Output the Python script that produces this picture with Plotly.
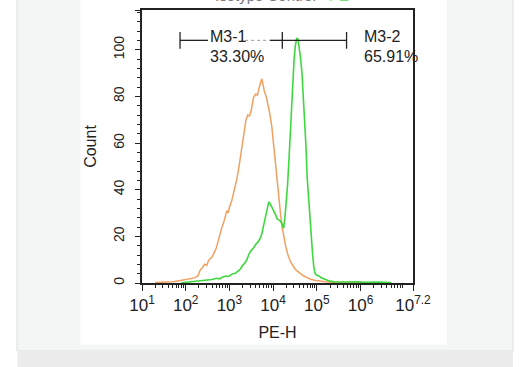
import plotly.graph_objects as go

# ---------------- data ----------------
# log10(PE-H) channel positions and counts
control_log = [1.30, 1.50, 1.70, 1.85, 2.00, 2.10, 2.20, 2.28, 2.33, 2.38, 2.43, 2.48, 2.52,
               2.56, 2.60, 2.65, 2.70, 2.75, 2.79, 2.83, 2.87, 2.91, 2.94, 2.97, 3.00, 3.05,
               3.10, 3.17, 3.22, 3.28, 3.33, 3.38, 3.42, 3.46, 3.50, 3.55, 3.60, 3.64, 3.67,
               3.71, 3.74, 3.77, 3.80, 3.84, 3.88, 3.92, 3.97, 4.01, 4.05, 4.09, 4.13, 4.17,
               4.21, 4.25, 4.29, 4.34, 4.39, 4.45, 4.50, 4.56, 4.62, 4.70, 4.78, 4.86, 4.95,
               5.05, 5.20, 5.35, 5.55, 5.75, 5.95, 6.20]
control_count = [0.2, 0.3, 0.5, 1.0, 1.5, 1.8, 2.2, 3.0, 5.5, 6.5, 8.0, 7.5, 9.5,
                 10.5, 11.0, 13.0, 15.0, 18.5, 21.5, 24.0, 26.0, 29.5, 31.0, 30.0, 32.5, 35.0,
                 39.0, 44.5, 50.0, 57.0, 63.0, 70.0, 72.0, 71.5, 74.0, 79.5, 81.0, 80.5, 83.0,
                 86.0, 87.5, 85.0, 82.0, 80.0, 77.0, 73.0, 67.0, 59.0, 52.0, 44.0, 36.0, 29.5,
                 23.5, 19.0, 15.5, 12.0, 9.5, 7.5, 6.0, 5.0, 4.0, 3.0, 2.3, 1.6, 1.2,
                 0.8, 0.5, 0.3, 0.2, 0.4, 0.2, 0.1]

sample_log = [1.90, 2.05, 2.20, 2.35, 2.50, 2.60, 2.70, 2.78, 2.85, 2.92, 2.98, 3.03, 3.08,
              3.14, 3.20, 3.25, 3.30, 3.35, 3.40, 3.45, 3.50, 3.55, 3.60, 3.65, 3.70, 3.74,
              3.78, 3.82, 3.86, 3.90, 3.93, 3.97, 4.01, 4.05, 4.09, 4.13, 4.17, 4.21, 4.24,
              4.27, 4.30, 4.33, 4.36, 4.39, 4.42, 4.45, 4.48, 4.51, 4.54, 4.57, 4.60, 4.63,
              4.66, 4.69, 4.72, 4.75, 4.78, 4.81, 4.84, 4.87, 4.90, 4.93, 4.96, 5.00, 5.05,
              5.10, 5.15, 5.22, 5.30, 5.40, 5.55, 5.70, 5.90, 6.10, 6.40, 6.70]
sample_count = [0.1, 0.4, 0.6, 0.9, 1.2, 1.5, 2.0, 1.8, 2.6, 3.0, 2.8, 3.5, 4.0,
                4.2, 5.2, 6.0, 7.5, 8.5, 10.0, 12.5, 14.0, 15.0, 16.5, 17.5, 19.0, 21.0,
                24.5, 28.0, 32.0, 34.8, 34.0, 32.5, 31.5, 29.5, 27.5, 27.0, 26.5, 25.0, 23.5,
                28.0, 34.0, 42.0, 52.0, 64.0, 76.0, 87.0, 96.0, 102.0, 105.0, 104.5, 101.0, 96.0,
                90.0, 81.0, 70.0, 59.0, 45.0, 36.0, 29.0, 21.0, 13.0, 7.0, 4.0, 3.3, 3.0,
                2.2, 1.8, 1.2, 0.8, 0.5, 0.6, 0.4, 0.5, 0.3, 0.4, 0.2]

# gate markers (log10 positions) and level
gate_names = ["M3-1", "M3-2"]
gate_pct = ["33.30%", "65.91%"]
gate_edges_log = [1.87, 4.21, 5.68]
gate_level = 104.0
gate_label_log = [2.51, 6.04]

x_tick_exp = ["1", "2", "3", "4", "5", "6", "7.2"]
y_tick_vals = [0, 20, 40, 60, 80, 100, 117]

ORANGE = "#f0a060"
GREEN = "#3ed83e"
INK = "#222222"
FONT = "Liberation Sans, Arial, sans-serif"

W, H = 528, 367
L0, R0, T0, B0 = 142, 413, 10, 283


def xp(px):
    return (px - L0) / (R0 - L0)


def yp(py):
    return (B0 - py) / (B0 - T0)


fig = go.Figure()

fig.add_trace(go.Scatter(x=[10 ** v for v in control_log], y=control_count, mode="lines",
                         line=dict(color=ORANGE, width=1.5), hoverinfo="skip", showlegend=False))
fig.add_trace(go.Scatter(x=[10 ** v for v in sample_log], y=sample_count, mode="lines",
                         line=dict(color=GREEN, width=1.6), hoverinfo="skip", showlegend=False))

# gate lines
lo, mid, hi = gate_edges_log
seg_solid = [(lo, 2.51), (3.93, mid), (mid, hi)]
for a, b in seg_solid:
    fig.add_trace(go.Scatter(x=[10 ** a, 10 ** b], y=[gate_level, gate_level], mode="lines",
                             line=dict(color=INK, width=1.3), hoverinfo="skip", showlegend=False))
fig.add_trace(go.Scatter(x=[10 ** 3.36, 10 ** 3.93], y=[gate_level, gate_level], mode="lines",
                         line=dict(color="#999999", width=1, dash="dot"), hoverinfo="skip",
                         showlegend=False))
for e in gate_edges_log:
    fig.add_trace(go.Scatter(x=[10 ** e, 10 ** e], y=[gate_level - 3.6, gate_level + 3.6],
                             mode="lines", line=dict(color=INK, width=1.3), hoverinfo="skip",
                             showlegend=False))

for name, pct, lx in zip(gate_names, gate_pct, gate_label_log):
    fig.add_annotation(x=lx, y=105.8, xref="x", yref="y", text=name, showarrow=False,
                       xanchor="left", yanchor="middle", font=dict(size=16, color=INK, family=FONT))
    fig.add_annotation(x=lx, y=97.0, xref="x", yref="y", text=pct, showarrow=False,
                       xanchor="left", yanchor="middle", font=dict(size=16, color=INK, family=FONT))

# clipped title at the very top (only the bottom sliver is visible in the reference)
fig.add_annotation(x=xp(213), y=yp(5.5), xref="paper", yref="paper",
                   text="Isotype Control <span style='color:#77dd77'>+PE</span>",
                   showarrow=False, xanchor="left", yanchor="bottom",
                   font=dict(size=15, color="#777777", family=FONT))

# page decoration
shapes = [
    dict(type="rect", xref="paper", yref="paper", x0=xp(17), x1=xp(513), y0=yp(-2), y1=yp(351),
         fillcolor="#f4f6f5", line=dict(color="#dcdedd", width=1), layer="below"),
    dict(type="rect", xref="paper", yref="paper", x0=xp(17.5), x1=xp(513), y0=yp(351.5), y1=yp(368),
         fillcolor="#ececec", line=dict(width=0), layer="below"),
    dict(type="rect", xref="paper", yref="paper", x0=xp(80.5), x1=xp(447), y0=yp(-2), y1=yp(344.5),
         fillcolor="#ffffff", line=dict(width=0), layer="below"),
]

minor_x = [m * 10 ** d for d in range(1, 8) for m in range(2, 10) if m * 10 ** d < 10 ** 7.2]

fig.update_layout(
    width=W, height=H, autosize=False,
    margin=dict(l=L0, r=W - R0, t=T0, b=H - B0, autoexpand=False),
    paper_bgcolor="#ffffff", plot_bgcolor="#ffffff",
    shapes=shapes,
    font=dict(family=FONT, color=INK),
    xaxis=dict(type="log", range=[1, 7.2], showgrid=False, zeroline=False, automargin=False,
               showline=True, mirror=True, linecolor=INK, linewidth=1.5,
               tickvals=[10 ** float(e) for e in x_tick_exp],
               ticktext=[f"10<sup>{e}</sup>" for e in x_tick_exp],
               ticks="outside", ticklen=6, tickwidth=1.3, tickcolor=INK,
               minor=dict(tickvals=minor_x, ticks="outside", ticklen=3, tickcolor=INK, tickwidth=1),
               tickfont=dict(size=17, color=INK),
               title=dict(text="PE-H", font=dict(size=16, color=INK), standoff=13)),
    yaxis=dict(range=[0, 117], showgrid=False, zeroline=False, automargin=False,
               showline=True, mirror=True, linecolor=INK, linewidth=1.5,
               tickvals=y_tick_vals, tickangle=-90,
               ticks="outside", ticklen=5, tickwidth=1.3, tickcolor=INK,
               minor=dict(dtick=4, tick0=0, ticks="outside", ticklen=3, tickcolor=INK, tickwidth=1),
               ticklabelstandoff=6,
               tickfont=dict(size=14, color=INK),
               title=dict(text="Count", font=dict(size=16, color=INK), standoff=10)),
)

fig.write_html("out.html", config={"displayModeBar": False},
               post_script="document.body.style.margin='0';document.body.style.overflow='hidden';")
